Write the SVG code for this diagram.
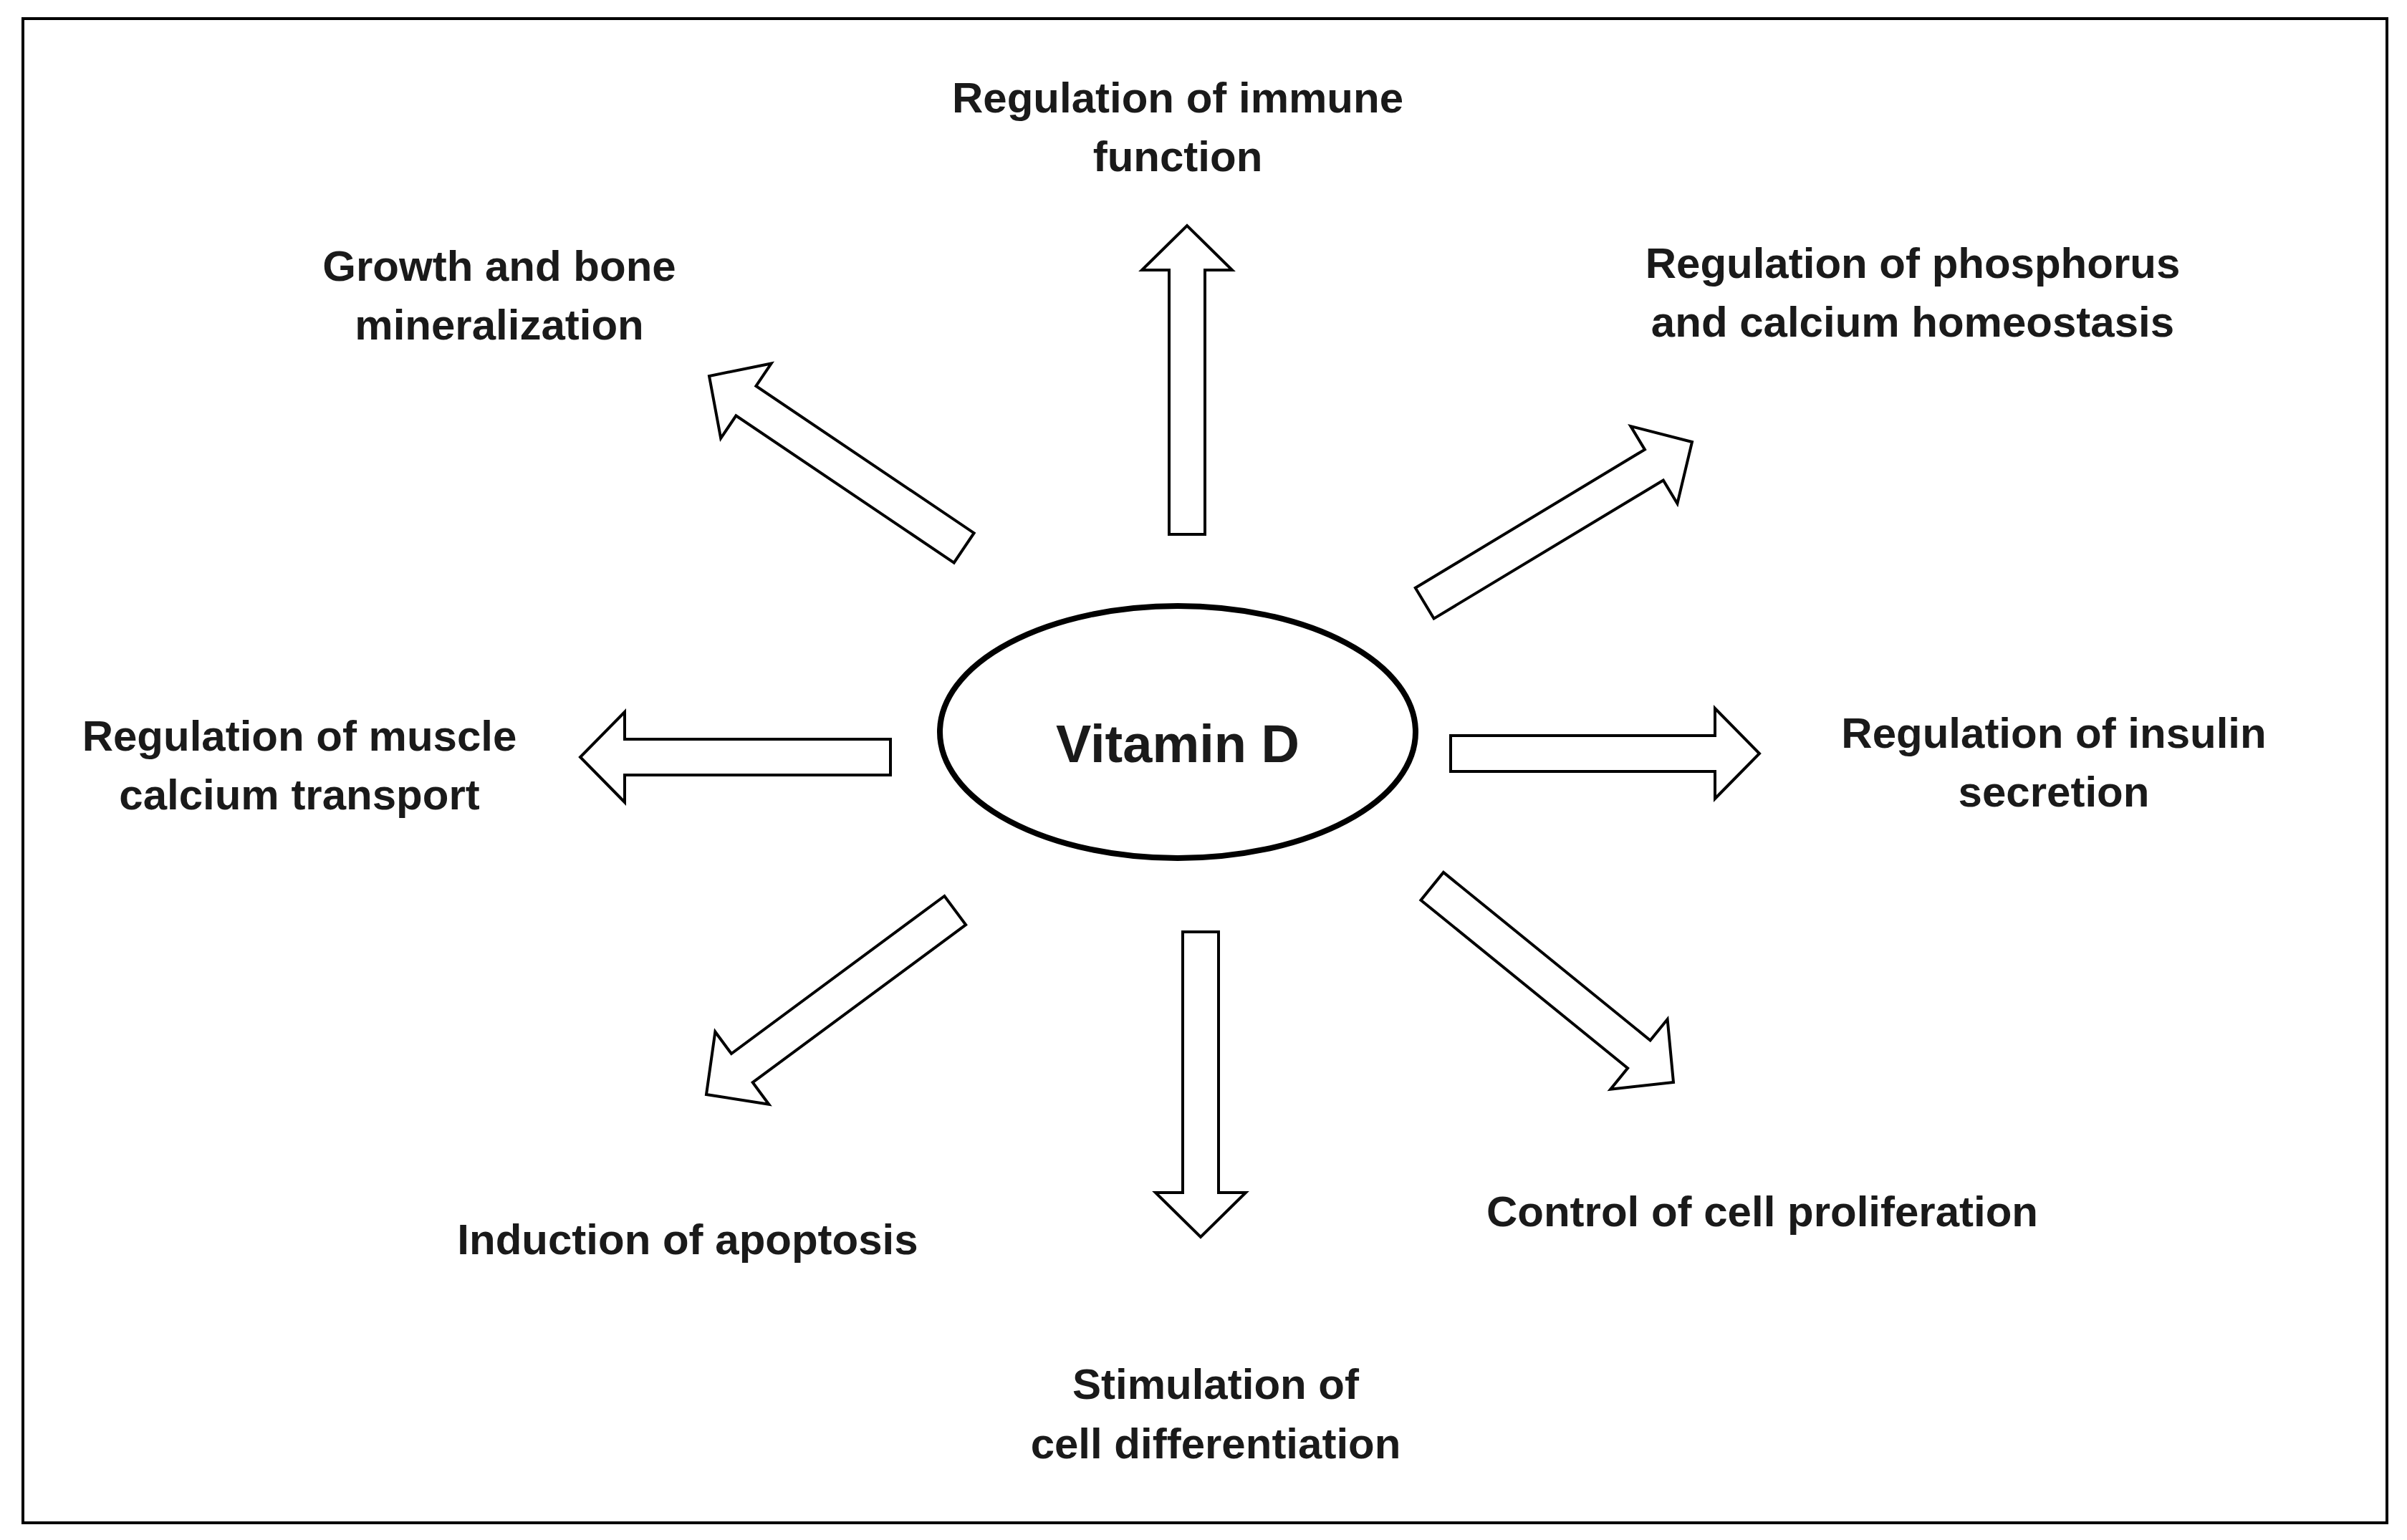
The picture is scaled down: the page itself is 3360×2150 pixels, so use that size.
<svg xmlns="http://www.w3.org/2000/svg" width="3360" height="2150" viewBox="0 0 3360 2150">
<style>
.t{font-family:"Liberation Sans",Arial,sans-serif;font-weight:bold;font-size:60px;text-anchor:middle;fill:#1a1a1a}
.a{fill:#fff;stroke:#000;stroke-width:4;stroke-linejoin:miter}
</style>
<rect x="0" y="0" width="3360" height="2150" fill="#fff"/>
<rect x="32" y="26" width="3300" height="2100" fill="none" stroke="#000" stroke-width="4"/>
<g id="center">
<ellipse cx="1644" cy="1022" rx="332" ry="176" fill="#fff" stroke="#000" stroke-width="8"/>
<text class="t" x="1644" y="1064" style="font-size:74px">Vitamin D</text>
</g>
<g id="connectors">
<polygon class="a" transform="translate(1657,315) rotate(-90)" points="-431,-25 -62,-25 -62,-63 0,0 -62,63 -62,25 -431,25"/>
<polygon class="a" transform="translate(990,525) rotate(-146)" points="-429,-25 -62,-25 -62,-63 0,0 -62,63 -62,25 -429,25"/>
<polygon class="a" transform="translate(2362,617) rotate(-31.1)" points="-436,-25 -62,-25 -62,-63 0,0 -62,63 -62,25 -436,25"/>
<polygon class="a" transform="translate(810,1057) rotate(180)" points="-433,-25 -62,-25 -62,-63 0,0 -62,63 -62,25 -433,25"/>
<polygon class="a" transform="translate(2456,1052)" points="-431,-25 -62,-25 -62,-63 0,0 -62,63 -62,25 -431,25"/>
<polygon class="a" transform="translate(986,1528) rotate(143.5)" points="-432,-25 -62,-25 -62,-63 0,0 -62,63 -62,25 -432,25"/>
<polygon class="a" transform="translate(1676,1727) rotate(90)" points="-426,-25 -62,-25 -62,-63 0,0 -62,63 -62,25 -426,25"/>
<polygon class="a" transform="translate(2336,1511) rotate(39.1)" points="-434,-25 -62,-25 -62,-63 0,0 -62,63 -62,25 -434,25"/>
</g>
<g id="immune"><text class="t" x="1644" y="157">Regulation of immune</text><text class="t" x="1644" y="239">function</text></g>
<g id="bone"><text class="t" x="697" y="392">Growth and bone</text><text class="t" x="697" y="474">mineralization</text></g>
<g id="phosphorus"><text class="t" x="2670" y="388">Regulation of phosphorus</text><text class="t" x="2670" y="470">and calcium homeostasis</text></g>
<g id="muscle"><text class="t" x="418" y="1048">Regulation of muscle</text><text class="t" x="418" y="1130">calcium transport</text></g>
<g id="insulin"><text class="t" x="2867" y="1044">Regulation of insulin</text><text class="t" x="2867" y="1126">secretion</text></g>
<g id="apoptosis"><text class="t" x="960" y="1751">Induction of apoptosis</text></g>
<g id="proliferation"><text class="t" x="2460" y="1712">Control of cell proliferation</text></g>
<g id="differentiation"><text class="t" x="1697" y="1953">Stimulation of</text><text class="t" x="1697" y="2036">cell differentiation</text></g>
</svg>
